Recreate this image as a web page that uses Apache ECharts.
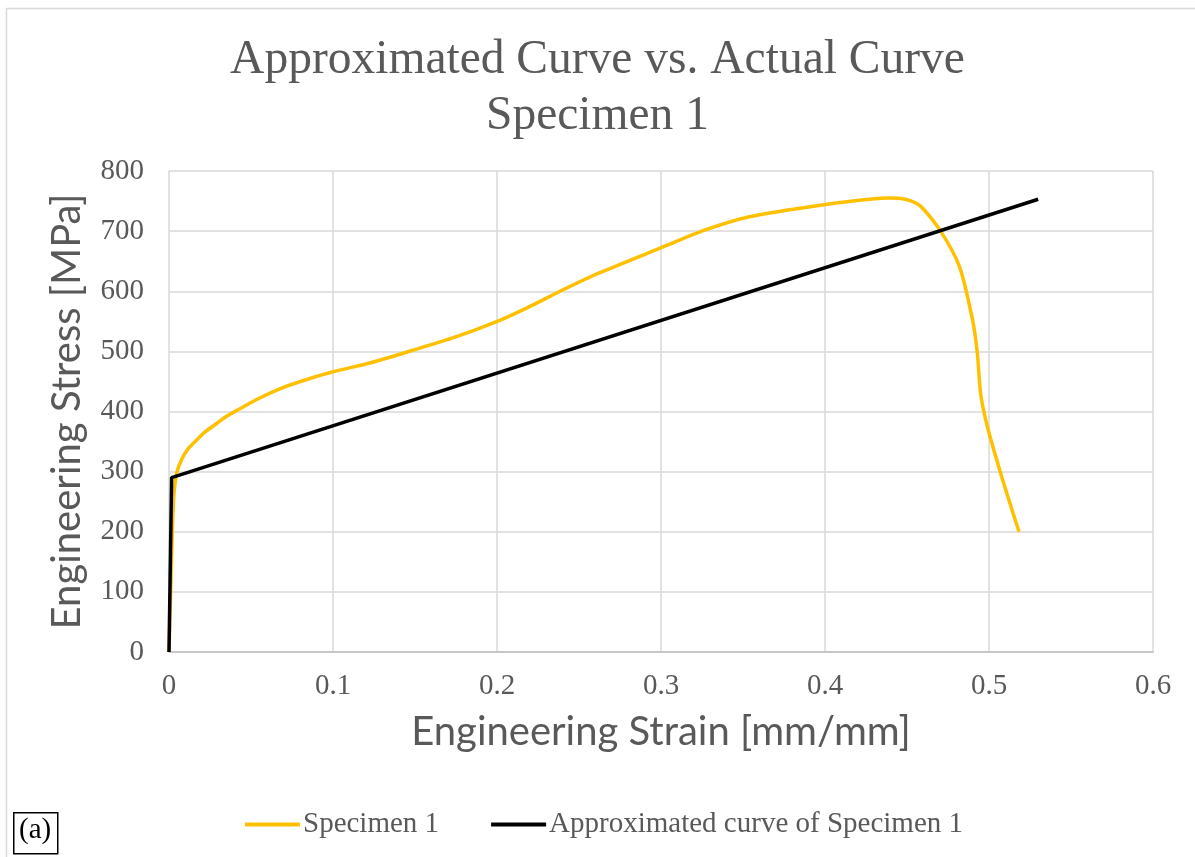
<!DOCTYPE html>
<html>
<head>
<meta charset="utf-8">
<title>Approximated Curve vs. Actual Curve</title>
<script src="https://cdn.jsdelivr.net/npm/echarts@6/dist/echarts.min.js"></script>
<style>
  html, body { margin: 0; padding: 0; background: #fff; }
  #chart { width: 1195px; height: 857px; }
</style>
</head>
<body>
<div id="chart"></div>
<script>
// 实测曲线 (strain, stress) 读图估计
var specimenStrain = [0, 0.001, 0.002, 0.003, 0.0047, 0.008, 0.012, 0.017, 0.022, 0.028, 0.0345, 0.0415, 0.055, 0.0687, 0.085, 0.1, 0.123, 0.1476, 0.1748, 0.1994, 0.218, 0.24, 0.262, 0.2997, 0.327, 0.354, 0.3994, 0.427, 0.4396, 0.449, 0.458, 0.47, 0.482, 0.49, 0.4929, 0.4949, 0.499, 0.5077, 0.5183];
var specimenStress = [0, 100, 200, 262, 298, 322, 339, 353, 366, 378, 391, 402, 422, 439, 454, 466, 481, 501, 524, 549, 572, 602, 630, 672, 702, 724, 744, 753, 755, 753, 742, 702, 641, 552, 497, 430, 375, 292, 200];
// 近似曲线 (双线性)
var approxStrain = [0, 0.0016, 0.53];
var approxStress = [0, 290, 753];

var xTicks = { min: 0, max: 0.6, interval: 0.1 };
var yTicks = { min: 0, max: 800, interval: 100 };

function zipData(xs, ys) {
    var out = [];
    for (var i = 0; i < xs.length; i++) {
        out.push([xs[i], ys[i]]);
    }
    return out;
}

var serif = "'Liberation Serif', 'Times New Roman', serif";
var sans = "Lato, 'Open Sans', sans-serif";

var myChart = echarts.init(document.getElementById('chart'), null, { renderer: 'canvas' });
var option = {
    backgroundColor: '#fff',
    animation: false,
    title: {
        text: 'Approximated Curve vs. Actual Curve\nSpecimen 1',
        left: 'center',
        top: 28,
        textStyle: {
            fontFamily: serif,
            fontWeight: 'normal',
            fontSize: 47.5,
            color: '#595959',
            lineHeight: 56
        }
    },
    legend: {
        bottom: 13,
        left: 240,
        icon: 'rect',
        itemWidth: 55,
        itemHeight: 4,
        itemGap: 52,
        textStyle: {
            fontFamily: serif,
            fontSize: 29,
            color: '#595959',
            padding: [0, 0, 0, -2]
        },
        data: ['Specimen 1', 'Approximated curve of Specimen 1']
    },
    grid: {
        left: 169,
        right: 42,
        top: 171,
        bottom: 205
    },
    xAxis: {
        type: 'value',
        min: xTicks.min,
        max: xTicks.max,
        interval: xTicks.interval,
        name: 'Engineering Strain [mm/mm]',
        nameLocation: 'middle',
        nameGap: 60,
        nameTextStyle: {
            fontFamily: sans,
            fontSize: 40,
            color: '#595959'
        },
        axisLine: { show: true, lineStyle: { color: '#bfbfbf', width: 1.5 } },
        axisTick: { show: false },
        axisLabel: {
            margin: 20,
            fontFamily: serif,
            fontSize: 29,
            color: '#595959'
        },
        splitLine: { show: true, lineStyle: { color: '#d9d9d9', width: 1.5 } }
    },
    yAxis: {
        type: 'value',
        min: yTicks.min,
        max: yTicks.max,
        interval: yTicks.interval,
        name: 'Engineering Stress [MPa]',
        nameLocation: 'middle',
        nameGap: 82,
        nameTextStyle: {
            fontFamily: sans,
            fontSize: 40,
            color: '#595959'
        },
        axisLine: { show: false },
        axisTick: { show: false },
        axisLabel: {
            margin: 25,
            fontFamily: serif,
            fontSize: 29,
            color: '#595959'
        },
        splitLine: { show: true, lineStyle: { color: '#d9d9d9', width: 1.5 } }
    },
    series: [
        {
            name: 'Specimen 1',
            type: 'line',
            data: zipData(specimenStrain, specimenStress),
            smooth: 0.25,
            showSymbol: false,
            symbol: 'none',
            color: '#ffc000',
            lineStyle: { color: '#ffc000', width: 3.5 },
            z: 2
        },
        {
            name: 'Approximated curve of Specimen 1',
            type: 'line',
            data: zipData(approxStrain, approxStress),
            showSymbol: false,
            symbol: 'none',
            color: '#000',
            lineStyle: { color: '#000', width: 3.5 },
            z: 3
        }
    ],
    graphic: [
        {
            type: 'rect',
            left: 4,
            top: 6,
            shape: { width: 1200, height: 860 },
            style: { fill: 'none', stroke: '#d9d9d9', lineWidth: 1.5 },
            silent: true,
            z: -1
        },
        {
            type: 'rect',
            left: 13,
            top: 812,
            shape: { width: 44, height: 41 },
            style: { fill: '#fff', stroke: '#000', lineWidth: 1.5 }
        },
        {
            type: 'text',
            left: 19,
            top: 816,
            style: {
                text: '(a)',
                fontFamily: serif,
                fontSize: 29,
                fill: '#000'
            }
        }
    ]
};
myChart.setOption(option);
</script>
</body>
</html>
